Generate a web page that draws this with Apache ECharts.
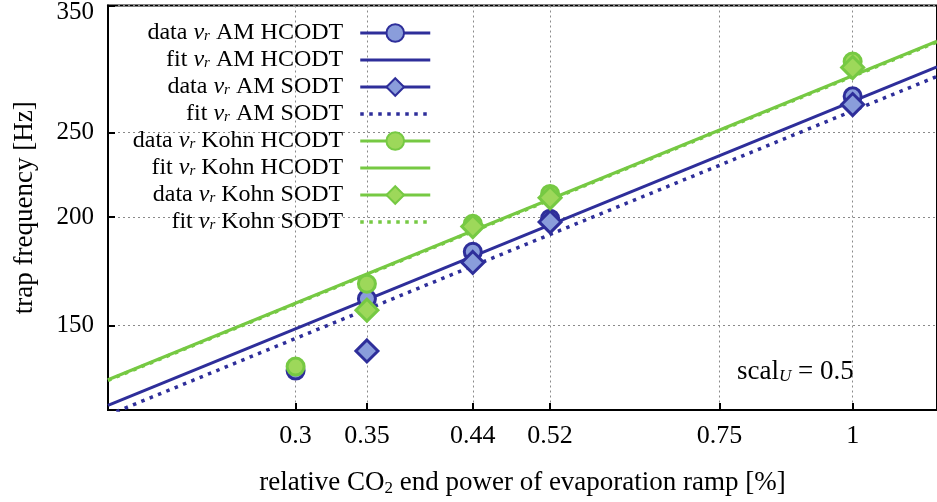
<!DOCTYPE html>
<html><head><meta charset="utf-8">
<script src="https://cdn.jsdelivr.net/npm/echarts@6/dist/echarts.min.js"></script>
<style>html,body{margin:0;padding:0;background:#fff}#c{width:937px;height:502px}</style>
</head><body><div id="c"></div>
<script>
const xTicks = [0.3, 0.35, 0.44, 0.52, 0.75, 1];
const yTicks = [150, 200, 250, 350];
const xHC = [0.3, 0.35, 0.44, 0.52, 1];
const xSO = [0.35, 0.44, 0.52, 1];
const amHC = [133.2, 161.1, 182.4, 199.1, 275.2];
const amSO = [140.3, 177.3, 197.4, 269.3];
const kohnHC = [134.6, 167.6, 196.4, 212.6, 301.7];
const kohnSO = [156.3, 195.0, 210.4, 297.0];
const fitX = [0.2, 1.2];
const fitAmHC = [121.5, 297.6];
const fitAmSO = [118.4, 290.1];
const fitKohnHC = [130.0, 318.4];
const fitKohnSO = [129.8, 317.8];
const names = ['data AM HCODT','fit AM HCODT','data AM SODT','fit AM SODT','data Kohn HCODT','fit Kohn HCODT','data Kohn SODT','fit Kohn SODT'];

const BLUE = '#2e2e9a', BLUEF = '#8a9ddb', GREEN = '#76c943', GREENF = '#9dd85a';
const FONT = 'Liberation Serif';
const DOT = [3.5, 5.5];
const pair = (xs, ys) => xs.map((x, i) => [x, ys[i]]);

function dataSeries(name, xs, ys, sym, size, col, fill) {
  return { name, type: 'line', data: pair(xs, ys), symbol: sym, symbolSize: size, showSymbol: true,
    lineStyle: { opacity: 0, width: 0 }, itemStyle: { color: fill, borderColor: col, borderWidth: 3 }, z: 3 };
}
function fitSeries(name, ys, col, dotted) {
  return { name, type: 'line', data: pair(fitX, ys), symbol: 'none', clip: true,
    itemStyle: { color: col },
    lineStyle: dotted ? { color: col, width: 3.5, type: DOT } : { color: col, width: 3 }, z: 2 };
}
function legendLabel(name) {
  const parts = name.split(' ');
  return parts[0] + ' {nu|ν}{sub|r} ' + parts.slice(1).join(' ');
}
const dataLeg = (n, c) => ({ name: n, lineStyle: { color: c, width: 3, opacity: 1, type: 'solid' } });
const fitLeg = (n, c, dotted) => ({ name: n, itemStyle: { opacity: 0 },
  lineStyle: { color: c, width: dotted ? 3.5 : 3, opacity: 1, type: dotted ? DOT : 'solid' } });

const chart = echarts.init(document.getElementById('c'), null, { renderer: 'canvas' });
chart.setOption({
  animation: false,
  grid: { left: 108, top: 5, bottom: 89, right: -10, show: true, borderColor: '#000', borderWidth: 2 },
  xAxis: {
    type: 'log', min: 0.2, max: 1.2,
    axisLine: { show: true, onZero: false, lineStyle: { color: '#000', width: 2 } },
    axisTick: { show: true, inside: true, length: 7, customValues: xTicks, lineStyle: { color: '#000', width: 2 } },
    axisLabel: { customValues: xTicks, formatter: v => String(+(+v).toPrecision(3)), color: '#000', fontFamily: FONT, fontSize: 26, margin: 13 },
    splitLine: { show: true, lineStyle: { color: '#8a8a8a', type: [2, 3], width: 1 } },
    minorTick: { show: false }, minorSplitLine: { show: false },
    name: 'relative CO{sub|2} end power of evaporation ramp [%]', nameLocation: 'middle', nameGap: 59,
    nameTextStyle: { color: '#000', fontFamily: FONT, fontSize: 27, lineHeight: 28,
      rich: { sub: { fontFamily: FONT, fontSize: 17, lineHeight: 6, verticalAlign: 'bottom' } } }
  },
  yAxis: {
    type: 'log', min: 120, max: 350,
    axisLine: { show: true, onZero: false, lineStyle: { color: '#000', width: 2 } },
    axisTick: { show: true, inside: true, length: 7, customValues: yTicks, lineStyle: { color: '#000', width: 2 } },
    axisLabel: { customValues: yTicks, color: '#000', fontFamily: FONT, fontSize: 25, margin: 14,
      formatter: v => { const s = String(Math.round(v)); return s === '350' ? '{top|350}' : s; },
      rich: { top: { fontFamily: FONT, fontSize: 25, padding: [14, 0, 0, 0] } } },
    splitLine: { show: true, lineStyle: { color: '#8a8a8a', type: [2, 3], width: 1 } },
    minorTick: { show: false }, minorSplitLine: { show: false },
    name: 'trap frequency [Hz]', nameLocation: 'middle', nameGap: 70,
    nameTextStyle: { color: '#000', fontFamily: FONT, fontSize: 27 }
  },
  legend: {
    orient: 'vertical', right: 505, top: 21, align: 'right', padding: 0,
    itemWidth: 70, itemHeight: 22, itemGap: 3,
    formatter: legendLabel,
    textStyle: { color: '#000', fontFamily: FONT, fontSize: 24, lineHeight: 22, padding: [0, 12, 0, 0],
      rich: { nu: { fontFamily: FONT, fontStyle: 'italic', fontSize: 24, lineHeight: 22 },
              sub: { fontFamily: FONT, fontStyle: 'italic', fontSize: 15, lineHeight: 1, verticalAlign: 'bottom' } } },
    data: [
      dataLeg(names[0], BLUE), fitLeg(names[1], BLUE, false), dataLeg(names[2], BLUE), fitLeg(names[3], BLUE, true),
      dataLeg(names[4], GREEN), fitLeg(names[5], GREEN, false), dataLeg(names[6], GREEN), fitLeg(names[7], GREEN, true)
    ]
  },
  graphic: [{
    type: 'text', left: 737, top: 358,
    style: { text: 'scal{sub|U} = 0.5', fill: '#000', fontFamily: FONT, fontSize: 27,
      rich: { sub: { fontFamily: FONT, fontStyle: 'italic', fontSize: 17, lineHeight: 6, verticalAlign: 'bottom', fill: '#000' } } }
  }],
  series: [
    dataSeries(names[0], xHC, amHC, 'circle', 17, BLUE, BLUEF),
    fitSeries(names[1], fitAmHC, BLUE, false),
    dataSeries(names[2], xSO, amSO, 'diamond', 22, BLUE, BLUEF),
    fitSeries(names[3], fitAmSO, BLUE, true),
    dataSeries(names[4], xHC, kohnHC, 'circle', 17, GREEN, GREENF),
    fitSeries(names[5], fitKohnHC, GREEN, false),
    dataSeries(names[6], xSO, kohnSO, 'diamond', 22, GREEN, GREENF),
    fitSeries(names[7], fitKohnSO, GREEN, true)
  ]
});
</script></body></html>
